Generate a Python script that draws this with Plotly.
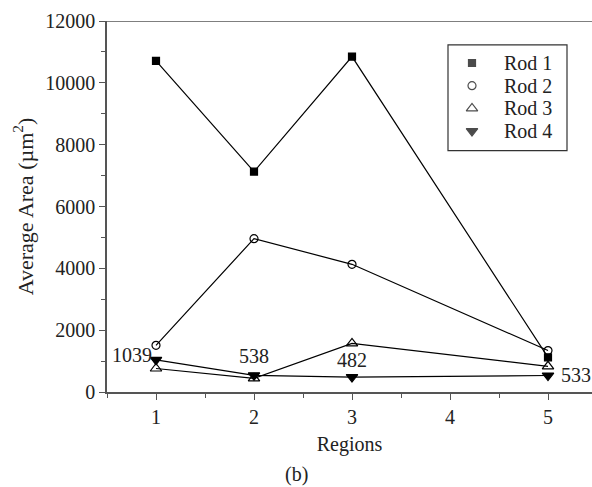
import plotly.graph_objects as go

# Average area per region for each rod
regions = [1, 2, 3, 5]
rod1 = [10710, 7130, 10850, 1120]
rod2 = [1510, 4960, 4130, 1340]
rod3 = [760, 440, 1570, 830]
rod4 = [1039, 538, 482, 533]
rod_names = ["Rod 1", "Rod 2", "Rod 3", "Rod 4"]
y_ticks = [0, 2000, 4000, 6000, 8000, 10000, 12000]
x_ticks = [1, 2, 3, 4, 5]

# Values printed next to the Rod 4 points: (region, xanchor, xshift, yshift)
label_specs = [
    (1, "right", -2, 5),
    (2, "center", 0, 19),
    (3, "center", 0, 17),
    (5, "left", 11, 1),
]

FONT = "Liberation Serif, Times New Roman, serif"
INK = "#222222"
series = [
    (rod1, "square", 7),
    (rod2, "circle-open", 8),
    (rod3, "triangle-up-open", 10),
    (rod4, "triangle-down", 10),
]

fig = go.Figure()
for (vals, sym, size), name in zip(series, rod_names):
    fig.add_trace(go.Scatter(
        x=regions, y=vals, mode="lines+markers", name=name,
        line=dict(color="black", width=1.2),
        marker=dict(symbol=sym, size=size, color="black",
                    line=dict(color="black", width=1.2)),
        showlegend=False,
    ))

# Legend key drawn on an overlay axis: x in pixels from the plot's left edge,
# y in legend rows (row 0 on top).
ROW_PX = 22.7
ROW0_PX = 42          # first row, pixels below the plot top
PLOT_H = 371
key_rows = list(range(len(rod_names)))
fig.add_trace(go.Scatter(
    x=[365] * len(rod_names), y=key_rows, mode="markers",
    marker=dict(symbol=[s[1] for s in series], size=[s[2] for s in series],
                color="black", line=dict(color="black", width=1.2)),
    xaxis="x2", yaxis="y2", showlegend=False, hoverinfo="skip",
))
for row, name in zip(key_rows, rod_names):
    fig.add_annotation(xref="x2", yref="y2", x=395, y=row, text=name,
                       showarrow=False, xanchor="left", yanchor="middle",
                       font=dict(family=FONT, size=20, color=INK))
fig.add_shape(type="rect", xref="x2", yref="y2", x0=341, x1=460,
              y0=-0.8, y1=3.86, line=dict(color="#333333", width=1.2),
              fillcolor="rgba(0,0,0,0)")

for (reg, xa, xs, ys) in label_specs:
    v = rod4[regions.index(reg)]
    fig.add_annotation(x=reg, y=v, text=str(v), showarrow=False,
                       xanchor=xa, yanchor="middle", xshift=xs, yshift=ys,
                       font=dict(family=FONT, size=20, color=INK))

# top frame line
fig.add_shape(type="line", xref="paper", yref="y", x0=0, x1=1, y0=12000, y1=12000,
              line=dict(color="#555555", width=1.5))

fig.add_annotation(xref="paper", yref="paper", x=(296 - 107) / 485, y=(392 - 488) / 371,
                   text="(b)", showarrow=False, yanchor="bottom",
                   font=dict(family=FONT, size=20, color=INK))

axis_common = dict(
    showline=True, linecolor="#555555", linewidth=1.5,
    ticks="outside", ticklen=6, tickwidth=1.3, tickcolor="#555555",
    showgrid=False, zeroline=False,
    tickfont=dict(family=FONT, size=20, color=INK),
)

fig.update_layout(
    width=592, height=487,
    margin=dict(l=107, r=0, t=21, b=95),
    paper_bgcolor="white", plot_bgcolor="white",
    font=dict(family=FONT, color=INK),
    showlegend=False,
    xaxis=dict(
        range=[0.5, 5.449], tickvals=x_ticks, ticktext=[str(t) for t in x_ticks],
        minor=dict(dtick=0.5, tick0=0.5, ticks="outside", ticklen=4, tickcolor="#555555"),
        title=dict(text="Regions", font=dict(family=FONT, size=20), standoff=10),
        **axis_common,
    ),
    yaxis=dict(
        range=[0, 12000], tickvals=y_ticks, ticktext=[str(t) for t in y_ticks],
        minor=dict(dtick=1000, ticks="outside", ticklen=4, tickcolor="#555555"),
        title=dict(text="Average Area (µm<sup>2</sup>)", font=dict(family=FONT, size=22), standoff=6),
        **axis_common,
    ),
    xaxis2=dict(overlaying="x", range=[0, 485], visible=False, fixedrange=True),
    yaxis2=dict(overlaying="y",
                range=[(PLOT_H - ROW0_PX) / ROW_PX, -ROW0_PX / ROW_PX],
                visible=False, fixedrange=True),
)

fig.write_html("out.html")
